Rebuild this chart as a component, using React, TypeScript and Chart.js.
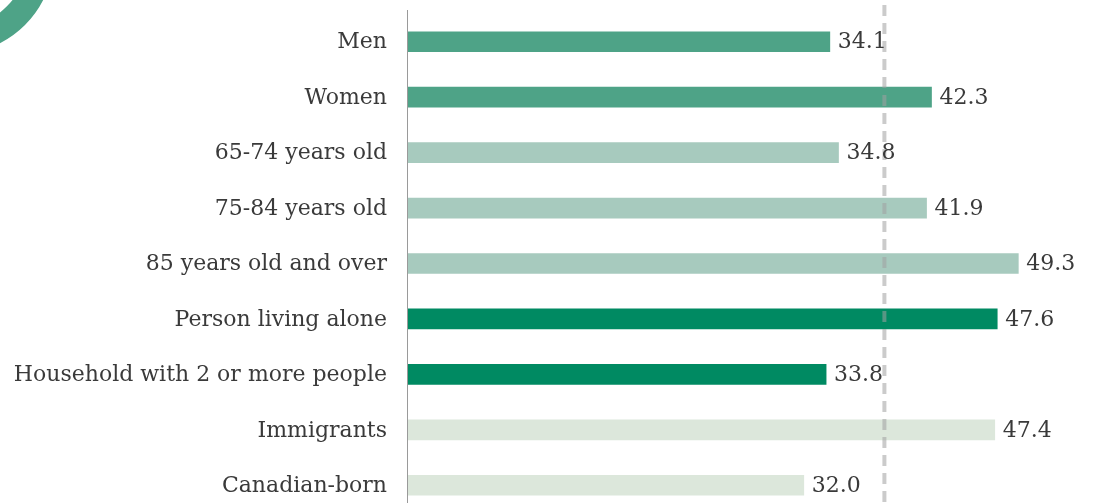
import React, { useEffect, useRef } from "react";
import { Chart, registerables } from "chart.js";

Chart.register(...registerables);

const categories = [
  "Men",
  "Women",
  "65-74 years old",
  "75-84 years old",
  "85 years old and over",
  "Person living alone",
  "Household with 2 or more people",
  "Immigrants",
  "Canadian-born",
];
const values = [34.1, 42.3, 34.8, 41.9, 49.3, 47.6, 33.8, 47.4, 32.0];
const barColors = [
  "#4EA387",
  "#4EA387",
  "#A7CABE",
  "#A7CABE",
  "#A7CABE",
  "#008A62",
  "#008A62",
  "#DCE7DB",
  "#DCE7DB",
];
const referenceValue = 38.5;

const FONT = "'DejaVu Serif', serif";
const TEXT = "#3a3a3a";

export default function App() {
  const ref = useRef<HTMLCanvasElement | null>(null);
  useEffect(() => {
    const canvas = ref.current!;
    const decor = {
      id: "decor",
      beforeDraw(chart: any) {
        const ctx = chart.ctx;
        ctx.save();
        ctx.beginPath();
        ctx.arc(-45, -45, 86, 0, Math.PI * 2);
        ctx.lineWidth = 26;
        ctx.strokeStyle = "#4EA387";
        ctx.stroke();
        ctx.restore();
      },
      afterDatasetsDraw(chart: any) {
        const ctx = chart.ctx;
        const xs = chart.scales.x;
        const ys = chart.scales.y;
        const ca = chart.chartArea;
        ctx.save();
        // axis line
        ctx.beginPath();
        ctx.strokeStyle = "#9a9a9a";
        ctx.lineWidth = 1;
        ctx.moveTo(ca.left + 0.5, 10);
        ctx.lineTo(ca.left + 0.5, chart.height);
        ctx.stroke();
        // reference dashed line
        const rx = xs.getPixelForValue(referenceValue);
        ctx.beginPath();
        ctx.setLineDash([11, 7]);
        ctx.strokeStyle = "rgba(160,160,160,0.55)";
        ctx.lineWidth = 4;
        ctx.moveTo(rx, 5);
        ctx.lineTo(rx, chart.height);
        ctx.stroke();
        ctx.setLineDash([]);
        // category labels
        ctx.font = `22px ${FONT}`;
        ctx.fillStyle = TEXT;
        ctx.textBaseline = "middle";
        ctx.textAlign = "right";
        categories.forEach((c, i) => {
          ctx.fillText(c, ca.left - 20, ys.getPixelForValue(i) + 1);
        });
        // value labels
        const meta = chart.getDatasetMeta(0);
        ctx.textAlign = "left";
        meta.data.forEach((bar: any, i: number) => {
          ctx.fillText(values[i].toFixed(1), bar.x + 8, bar.y + 1);
        });
        ctx.restore();
      },
    };
    const chart = new Chart(canvas, {
      type: "bar",
      data: {
        labels: categories,
        datasets: [
          {
            data: values,
            backgroundColor: barColors,
            barThickness: 20,
            borderWidth: 0,
          },
        ],
      },
      options: {
        indexAxis: "y",
        responsive: false,
        animation: false,
        layout: { padding: { top: 14, right: 9, bottom: 7, left: 407 } },
        plugins: { legend: { display: false }, tooltip: { enabled: false } },
        scales: {
          x: { display: false, min: 0, max: 55 },
          y: {
            display: false,
            grid: { display: false },
            border: { display: false },
          },
        },
      },
      plugins: [decor],
    });
    return () => chart.destroy();
  }, []);
  return (
    <div
      style={{
        position: "absolute",
        left: 0,
        top: 0,
        width: 1098,
        height: 503,
        overflow: "hidden",
        background: "#fff",
      }}
    >
      <canvas ref={ref} width={1098} height={520} />
    </div>
  );
}
